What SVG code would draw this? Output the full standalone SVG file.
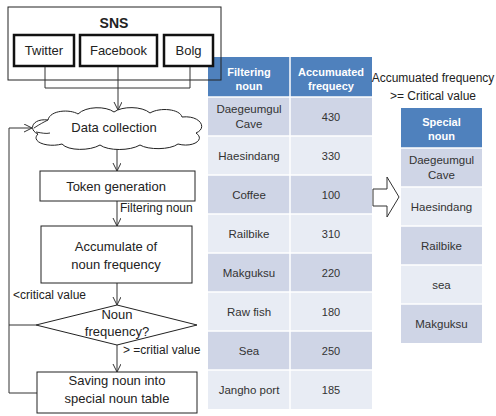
<svg xmlns="http://www.w3.org/2000/svg" width="496" height="416" viewBox="0 0 496 416">
<defs>
<marker id="ah" markerWidth="10" markerHeight="10" refX="8" refY="4" orient="auto" markerUnits="userSpaceOnUse">
<path d="M0,0 L8,4 L0,8" fill="none" stroke="#333" stroke-width="1"/>
</marker>
<style>
text{font-family:"Liberation Sans",Arial,sans-serif;fill:#222;text-anchor:middle}
.fc{font-size:13px}
.lbl{font-size:12px;text-anchor:start}
.th{font-size:11px;font-weight:bold;fill:#fff}
.td{font-size:11.5px;fill:#333}
.num{font-size:11px;fill:#333}
.hdr{fill:#4f81bd}
.dk{fill:#cfd5e6}
.lt{fill:#e8ecf4}
.grid{stroke:#fff;stroke-width:1.5}
.box{fill:#fff;stroke:#222;stroke-width:1}
.frame{fill:none;stroke:#222;stroke-width:1}
.tbox{fill:#fff;stroke:#111;stroke-width:2.5}
.con{fill:none;stroke:#333;stroke-width:1}
</style>
</defs>
<rect width="496" height="416" fill="#fff"/>

<!-- Main table -->
<g id="table-main">
<rect class="hdr" x="208" y="57" width="164" height="40"/>
<rect class="dk" x="208" y="97" width="164" height="39"/>
<rect class="lt" x="208" y="136" width="164" height="39"/>
<rect class="dk" x="208" y="175" width="164" height="39"/>
<rect class="lt" x="208" y="214" width="164" height="39"/>
<rect class="dk" x="208" y="253" width="164" height="39"/>
<rect class="lt" x="208" y="292" width="164" height="39"/>
<rect class="dk" x="208" y="331" width="164" height="39"/>
<rect class="lt" x="208" y="370" width="164" height="39"/>
<g class="grid">
<line x1="290" y1="57" x2="290" y2="409"/>
<line x1="208" y1="97" x2="372" y2="97"/>
<line x1="208" y1="136" x2="372" y2="136"/>
<line x1="208" y1="175" x2="372" y2="175"/>
<line x1="208" y1="214" x2="372" y2="214"/>
<line x1="208" y1="253" x2="372" y2="253"/>
<line x1="208" y1="292" x2="372" y2="292"/>
<line x1="208" y1="331" x2="372" y2="331"/>
<line x1="208" y1="370" x2="372" y2="370"/>
</g>
<text class="th" x="249" y="76">Filtering</text>
<text class="th" x="249" y="90">noun</text>
<text class="th" x="331" y="76">Accumuated</text>
<text class="th" x="331" y="90">frequecy</text>
<text class="td" x="249" y="113">Daegeumgul</text>
<text class="td" x="249" y="128">Cave</text>
<text class="num" x="331" y="121">430</text>
<text class="td" x="249" y="160">Haesindang</text>
<text class="num" x="331" y="160">330</text>
<text class="td" x="249" y="199">Coffee</text>
<text class="num" x="331" y="199">100</text>
<text class="td" x="249" y="238">Railbike</text>
<text class="num" x="331" y="238">310</text>
<text class="td" x="249" y="277">Makguksu</text>
<text class="num" x="331" y="277">220</text>
<text class="td" x="249" y="316">Raw fish</text>
<text class="num" x="331" y="316">180</text>
<text class="td" x="249" y="355">Sea</text>
<text class="num" x="331" y="355">250</text>
<text class="td" x="249" y="394">Jangho port</text>
<text class="num" x="331" y="394">185</text>
</g>

<!-- Special noun table -->
<g id="table-special">
<text style="font-size:12px" x="433" y="82">Accumuated frequency</text>
<text style="font-size:12px" x="433" y="100">&gt;= Critical value</text>
<rect class="hdr" x="401" y="108" width="81" height="40"/>
<rect class="dk" x="401" y="148" width="81" height="39"/>
<rect class="lt" x="401" y="187" width="81" height="39"/>
<rect class="dk" x="401" y="226" width="81" height="39"/>
<rect class="lt" x="401" y="265" width="81" height="39"/>
<rect class="dk" x="401" y="304" width="81" height="39"/>
<g class="grid">
<line x1="401" y1="148" x2="482" y2="148"/>
<line x1="401" y1="187" x2="482" y2="187"/>
<line x1="401" y1="226" x2="482" y2="226"/>
<line x1="401" y1="265" x2="482" y2="265"/>
<line x1="401" y1="304" x2="482" y2="304"/>
</g>
<text class="th" x="441.5" y="126">Special</text>
<text class="th" x="441.5" y="140">noun</text>
<text class="td" x="441.5" y="164">Daegeumgul</text>
<text class="td" x="441.5" y="179">Cave</text>
<text class="td" x="441.5" y="211">Haesindang</text>
<text class="td" x="441.5" y="250">Railbike</text>
<text class="td" x="441.5" y="289">sea</text>
<text class="td" x="441.5" y="328">Makguksu</text>
</g>

<g id="block-arrow">
<polygon points="373,189 387,189 387,177 399,197 387,217 387,206 373,206" fill="#fff" stroke="#333" stroke-width="1"/>
</g>

<!-- Flowchart -->
<g id="sns">
<rect class="frame" x="8" y="7" width="213" height="73"/>
<text x="114" y="28" style="font-size:14px;font-weight:bold">SNS</text>
</g>
<g id="twitter">
<rect class="tbox" x="14" y="35" width="60" height="31"/>
<text class="fc" x="44" y="55">Twitter</text>
</g>
<g id="facebook">
<rect class="tbox" x="80" y="35" width="77" height="31"/>
<text class="fc" x="118.5" y="55">Facebook</text>
</g>
<g id="bolg">
<rect class="tbox" x="164" y="35" width="49" height="31"/>
<text class="fc" x="188.5" y="55">Bolg</text>
</g>

<g id="connectors">
<path class="con" d="M45 67 V88 M118 67 V88 M190 67 V88 M45 88 H190"/>
<path class="con" d="M118 88 V110" marker-end="url(#ah)"/>
<path class="con" d="M117 147 V171" marker-end="url(#ah)"/>
<path class="con" d="M117 201 V226" marker-end="url(#ah)"/>
<path class="con" d="M117 283 V305" marker-end="url(#ah)"/>
<path class="con" d="M117 345 V372" marker-end="url(#ah)"/>
<path class="con" d="M36 325 H9"/>
<path class="con" d="M37 393 H9 V128 H32" marker-end="url(#ah)"/>
</g>

<g id="data-collection">
<path class="box" d="M38 134 C28 130,32 118,48 120 C50 110,70 109,78 114 C86 106,106 106,114 112 C122 106,142 106,150 113 C160 107,180 109,182 117 C200 115,208 128,196 133 C206 140,192 148,178 144 C170 150,148 150,140 145 C130 151,108 151,100 145 C90 151,68 151,62 144 C48 148,30 142,38 134 Z"/>
<path class="con" d="M34 128 C40 124,44 122,48 120 M36 132 C42 133,46 134,50 133"/>
<text class="fc" x="114" y="132">Data collection</text>
</g>

<g id="token">
<rect class="box" x="40" y="171" width="155" height="30"/>
<text class="fc" x="116" y="191">Token generation</text>
</g>
<text class="lbl" x="120" y="212">Filtering noun</text>

<g id="accumulate">
<rect class="box" x="41" y="226" width="151" height="57"/>
<text class="fc" x="116" y="251">Accumulate of</text>
<text class="fc" x="116" y="269">noun frequency</text>
</g>
<text class="lbl" x="13" y="299">&lt;critical value</text>

<g id="decision">
<polygon class="box" points="117,305 197,325 117,345 36,325"/>
<text class="fc" x="117" y="319">Noun</text>
<text class="fc" x="117" y="336">frequency?</text>
</g>
<text class="lbl" x="123" y="354">&gt; =critial value</text>

<g id="saving">
<rect class="box" x="37" y="372" width="160" height="41"/>
<text class="fc" x="117" y="385">Saving noun into</text>
<text class="fc" x="117" y="403">special noun table</text>
</g>
</svg>
